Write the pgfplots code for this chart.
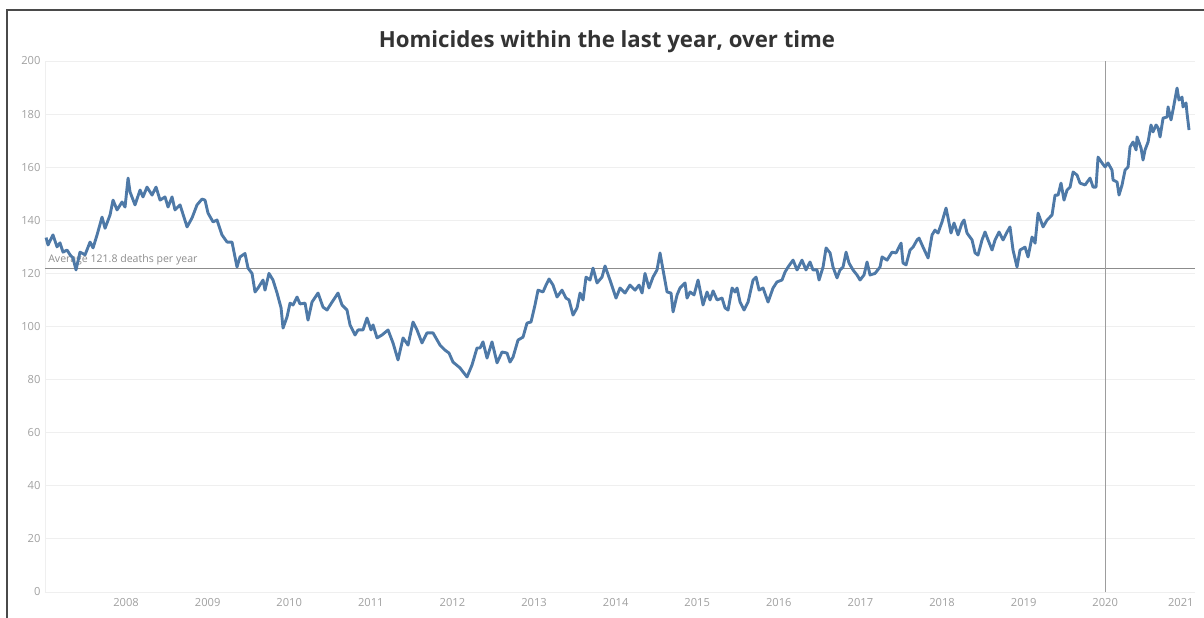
\documentclass[border=0pt]{standalone}
\usepackage{pgfplots}
\pgfplotsset{compat=1.18}
\usepackage{fontspec}
\setmainfont{Open Sans}
\definecolor{lineblue}{HTML}{4E79A7}
\definecolor{ticklab}{HTML}{A0A0A0}
\definecolor{gridc}{HTML}{EFEFEF}
\definecolor{refc}{HTML}{8C8C8C}
\definecolor{framec}{HTML}{4A4A4A}
\definecolor{titlec}{HTML}{333333}
\begin{document}
\begin{tikzpicture}
\begin{axis}[
  scale only axis,
  width=1150bp, height=531bp,
  at={(0,0)}, anchor=south west,
  xmin=2007.007, xmax=2021.100,
  ymin=0, ymax=200,
  xtick={2008,2009,2010,2011,2012,2013,2014,2015,2016,2017,2018,2019,2020},
  xticklabels={2008,2009,2010,2011,2012,2013,2014,2015,2016,2017,2018,2019,2020},
  extra x ticks={2021},
  extra x tick labels={2021},
  extra x tick style={xticklabel style={xshift=-6bp}},
  ytick={0,20,40,60,80,100,120,140,160,180,200},
  minor x tick num=3,
  axis x line=bottom, axis y line=left,
  axis line style={draw=gridc, line width=0.8bp, -},
  major tick length=0pt, minor tick length=3bp,
  minor tick style={draw=gridc},
  xtick style={draw=none},
  ytick style={draw=none},
  ymajorgrids, major grid style={draw=gridc, line width=0.8bp},
  /pgf/number format/assume math mode=true,
  /pgf/number format/1000 sep={},
  tick label style={font=\fontsize{11.2}{13}\selectfont, text=ticklab},
  yticklabel style={xshift=-1bp},
  xticklabel style={yshift=-3bp},
  clip=false,
]
% average reference line
\addplot[refc, line width=1.3bp] coordinates {(2007.007,121.8) (2021.100,121.8)};
% 2020 reference line
\addplot[refc!85, line width=1.3bp] coordinates {(2020.0,0) (2020.0,200)};
\node[anchor=south west, inner sep=0pt, font=\fontsize{10.6}{12}\selectfont, text=refc] at (axis cs:2007.045,123.0) {Average 121.8 deaths per year};
\addplot[lineblue, line width=2.9bp, line join=round] table {
2007.020 133.5
2007.044 130.7
2007.105 134.5
2007.154 130.0
2007.191 131.5
2007.228 128.0
2007.277 128.8
2007.314 127.0
2007.350 125.8
2007.387 121.3
2007.436 128.0
2007.498 127.0
2007.559 131.8
2007.596 129.6
2007.645 134.5
2007.706 141.2
2007.743 137.0
2007.804 142.0
2007.841 147.6
2007.890 143.9
2007.951 146.9
2007.988 145.0
2008.025 155.9
2008.049 150.7
2008.110 145.8
2008.172 151.4
2008.208 148.8
2008.257 152.5
2008.319 149.5
2008.368 152.5
2008.417 147.6
2008.478 148.8
2008.515 145.0
2008.564 148.8
2008.600 143.9
2008.662 145.8
2008.748 137.5
2008.809 140.9
2008.870 145.8
2008.931 148.0
2008.968 147.6
2009.005 142.7
2009.066 139.4
2009.115 140.1
2009.176 134.5
2009.238 131.8
2009.299 131.8
2009.360 122.4
2009.397 126.2
2009.458 127.5
2009.495 122.0
2009.544 120.0
2009.581 113.0
2009.618 114.5
2009.679 117.5
2009.703 113.7
2009.752 120.0
2009.801 117.5
2009.851 112.6
2009.900 107.0
2009.924 99.4
2009.973 103.6
2010.010 108.8
2010.047 108.1
2010.096 111.1
2010.132 108.5
2010.194 108.8
2010.230 102.4
2010.279 109.2
2010.353 112.6
2010.414 107.3
2010.463 106.2
2010.525 109.2
2010.598 112.6
2010.647 108.1
2010.708 106.2
2010.745 100.6
2010.806 96.8
2010.843 98.7
2010.904 98.7
2010.953 103.2
2011.002 98.7
2011.027 100.6
2011.076 95.7
2011.137 96.8
2011.211 98.7
2011.272 93.8
2011.333 87.4
2011.395 95.7
2011.456 93.0
2011.517 101.7
2011.566 98.7
2011.627 93.8
2011.689 97.6
2011.762 97.6
2011.848 93.0
2011.909 91.1
2011.958 90.0
2012.007 86.6
2012.093 84.4
2012.130 82.9
2012.179 81.0
2012.240 85.5
2012.301 91.9
2012.338 91.9
2012.375 94.2
2012.424 88.1
2012.485 94.2
2012.547 86.3
2012.608 90.4
2012.669 90.0
2012.706 86.6
2012.743 88.5
2012.804 94.9
2012.865 96.0
2012.914 101.3
2012.963 101.7
2013.012 108.1
2013.049 113.7
2013.110 113.0
2013.147 115.6
2013.184 117.9
2013.233 115.6
2013.282 111.1
2013.343 113.7
2013.392 110.7
2013.429 110.0
2013.478 104.3
2013.527 107.0
2013.564 112.6
2013.601 110.0
2013.637 118.6
2013.686 117.5
2013.723 122.0
2013.772 116.4
2013.833 118.6
2013.870 122.8
2013.931 117.5
2014.005 110.7
2014.054 114.5
2014.115 112.6
2014.176 115.6
2014.238 113.7
2014.287 115.6
2014.324 112.6
2014.360 120.0
2014.409 114.5
2014.458 118.6
2014.507 121.3
2014.544 127.7
2014.581 121.3
2014.630 113.0
2014.679 112.6
2014.704 105.5
2014.753 111.9
2014.789 114.5
2014.851 116.4
2014.875 110.7
2014.912 113.0
2014.961 111.9
2015.010 117.5
2015.071 108.1
2015.120 113.0
2015.157 110.0
2015.194 113.4
2015.243 110.0
2015.304 110.7
2015.341 107.0
2015.378 106.2
2015.427 114.5
2015.463 113.0
2015.488 114.5
2015.525 109.2
2015.574 106.2
2015.623 109.2
2015.684 117.5
2015.721 118.6
2015.758 113.7
2015.807 114.5
2015.868 109.2
2015.929 114.5
2015.978 116.8
2016.039 117.5
2016.076 120.5
2016.113 122.4
2016.174 125.0
2016.223 121.3
2016.284 125.0
2016.333 121.3
2016.382 124.3
2016.419 121.3
2016.468 121.3
2016.493 117.5
2016.542 122.4
2016.579 129.6
2016.628 127.7
2016.664 122.4
2016.713 118.3
2016.750 121.3
2016.787 122.4
2016.824 128.0
2016.860 123.9
2016.909 121.3
2016.958 119.4
2016.995 117.5
2017.044 119.4
2017.081 124.3
2017.118 119.4
2017.179 120.0
2017.240 122.4
2017.265 126.2
2017.326 125.0
2017.387 128.0
2017.436 127.7
2017.498 131.4
2017.522 123.9
2017.559 123.2
2017.608 128.8
2017.645 129.9
2017.694 132.6
2017.718 133.3
2017.767 129.9
2017.829 125.8
2017.878 134.5
2017.914 136.3
2017.951 135.2
2018.000 139.4
2018.049 144.6
2018.074 140.9
2018.110 135.2
2018.147 139.0
2018.196 134.5
2018.245 139.0
2018.270 140.1
2018.306 135.2
2018.368 132.6
2018.405 127.7
2018.441 126.9
2018.490 132.6
2018.527 135.6
2018.564 132.6
2018.613 128.8
2018.650 132.6
2018.699 135.6
2018.748 132.6
2018.797 135.6
2018.833 137.5
2018.870 128.8
2018.919 122.4
2018.956 128.8
2019.017 129.9
2019.054 126.2
2019.103 133.7
2019.140 131.4
2019.177 142.7
2019.238 137.5
2019.287 140.1
2019.348 142.0
2019.385 149.5
2019.422 149.5
2019.458 154.0
2019.495 147.6
2019.532 151.4
2019.569 152.5
2019.606 158.2
2019.655 157.0
2019.691 154.0
2019.753 153.3
2019.814 155.9
2019.851 152.5
2019.887 152.5
2019.912 163.8
2019.961 161.6
2019.998 160.1
2020.034 161.6
2020.083 158.9
2020.096 155.2
2020.145 154.4
2020.169 149.5
2020.206 153.3
2020.243 158.9
2020.280 160.1
2020.304 167.6
2020.341 169.5
2020.378 166.5
2020.390 171.4
2020.439 167.2
2020.463 162.7
2020.488 166.5
2020.525 169.5
2020.561 175.9
2020.586 173.3
2020.623 175.9
2020.647 174.8
2020.672 171.4
2020.709 178.5
2020.758 178.9
2020.770 182.7
2020.806 177.8
2020.831 181.6
2020.880 189.8
2020.904 185.3
2020.941 186.4
2020.953 182.7
2020.990 184.2
2021.002 180.4
2021.027 174.0
};
\end{axis}
% frame (left and top edges of the dashboard border)
\draw[framec, line width=2bp] (-38bp,-26bp) -- (-38bp,582bp) -- (1159bp,582bp);
% title
\node[font=\fontsize{22.3}{26}\selectfont\bfseries, text=titlec] at (562bp,550bp) {Homicides within the last year, over time};
\pgfresetboundingbox
\path (-45bp,-26bp) rectangle (1159bp,592bp);
\end{tikzpicture}
\end{document}
